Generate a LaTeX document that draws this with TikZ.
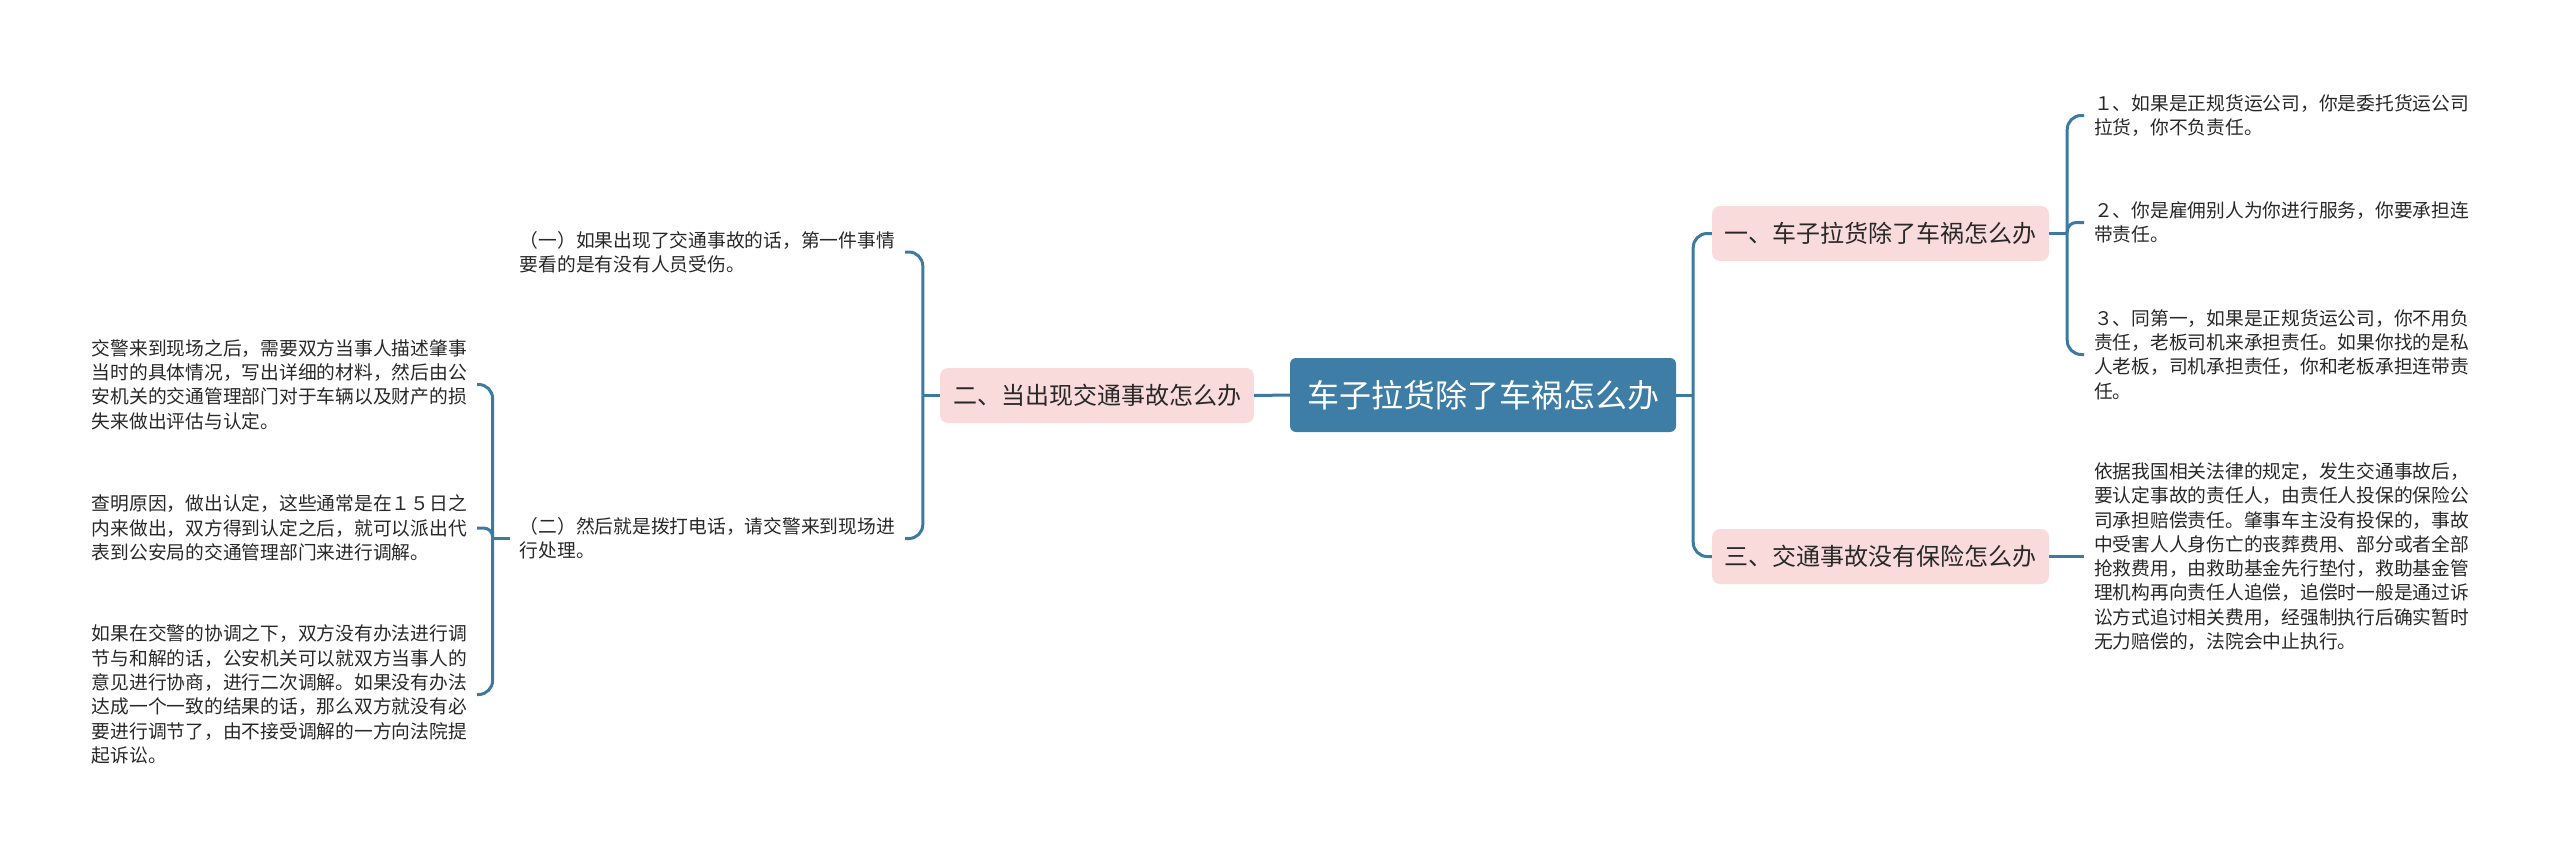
\documentclass[tikz,border=0pt]{standalone}
\usepackage{fontspec}
\newfontfamily\cjk{Noto Sans CJK SC}
\usetikzlibrary{calc}
\definecolor{rootblue}{RGB}{62,126,166}
\definecolor{linkblue}{RGB}{60,122,162}
\definecolor{pinkfill}{RGB}{250,219,219}
\definecolor{txtgray}{RGB}{40,40,40}
\begin{document}
\begin{tikzpicture}[x=1pt,y=-1pt,
  conn/.style={draw=linkblue,line width=3pt},
  rootnode/.style={fill=rootblue,rounded corners=6pt,text=white,font=\cjk\fontsize{32}{38}\selectfont,minimum width=386pt,minimum height=74pt,inner sep=0pt},
  branch/.style={fill=pinkfill,rounded corners=8pt,text=txtgray,font=\cjk\fontsize{24}{29}\selectfont,minimum height=55pt,inner sep=0pt},
  leaf/.style={text=txtgray,font=\cjk\fontsize{18.75}{24.3}\selectfont,align=left,inner xsep=10pt,inner ysep=2pt}]
\path[use as bounding box] (0,0) rectangle (2560,857);

\node[rootnode] (root) at (1483,395) {车子拉货除了车祸怎么办};
\node[branch,minimum width=337pt] (b1) at (1880.5,233.5) {一、车子拉货除了车祸怎么办};
\node[branch,minimum width=337pt] (b3) at (1880.5,556.5) {三、交通事故没有保险怎么办};
\node[branch,minimum width=314pt] (b2) at (1097,395.5) {二、当出现交通事故怎么办};

\node[leaf,anchor=west] (l1) at (2084,115.5) {１、如果是正规货运公司，你是委托货运公司\\拉货，你不负责任。};
\node[leaf,anchor=west] (l2) at (2084,222.5) {２、你是雇佣别人为你进行服务，你要承担连\\带责任。};
\node[leaf,anchor=west] (l3) at (2084,354.5) {３、同第一，如果是正规货运公司，你不用负\\责任，老板司机来承担责任。如果你找的是私\\人老板，司机承担责任，你和老板承担连带责\\任。};
\node[leaf,anchor=west] (l4) at (2084,556.5) {依据我国相关法律的规定，发生交通事故后，\\要认定事故的责任人，由责任人投保的保险公\\司承担赔偿责任。肇事车主没有投保的，事故\\中受害人人身伤亡的丧葬费用、部分或者全部\\抢救费用，由救助基金先行垫付，救助基金管\\理机构再向责任人追偿，追偿时一般是通过诉\\讼方式追讨相关费用，经强制执行后确实暂时\\无力赔偿的，法院会中止执行。};

\node[leaf,anchor=east] (l5) at (905,252) {（一）如果出现了交通事故的话，第一件事情\\要看的是有没有人员受伤。};
\node[leaf,anchor=east] (l6) at (905,538.5) {（二）然后就是拨打电话，请交警来到现场进\\行处理。};

\node[leaf,anchor=east] (la) at (477,384.5) {交警来到现场之后，需要双方当事人描述肇事\\当时的具体情况，写出详细的材料，然后由公\\安机关的交通管理部门对于车辆以及财产的损\\失来做出评估与认定。};
\node[leaf,anchor=east] (lb) at (477,528) {查明原因，做出认定，这些通常是在１５日之\\内来做出，双方得到认定之后，就可以派出代\\表到公安局的交通管理部门来进行调解。};
\node[leaf,anchor=east] (lc) at (477,694.5) {如果在交警的协调之下，双方没有办法进行调\\节与和解的话，公安机关可以就双方当事人的\\意见进行协商，进行二次调解。如果没有办法\\达成一个一致的结果的话，那么双方就没有必\\要进行调节了，由不接受调解的一方向法院提\\起诉讼。};

% right trunk
\coordinate (jr) at ($(root.east)+(17,0)$);
\draw[conn] (root.east) -- (jr);
\draw[conn,rounded corners=14pt] (b1.west) -| (jr) |- (b3.west);

% branch 1 leaves
\coordinate (j1) at ($(b1.east)+(18,0)$);
\draw[conn] (b1.east) -- (j1);
\draw[conn,rounded corners=14pt] (j1) |- (l1.west);
\draw[conn,rounded corners=9pt] (j1) |- (l2.west);
\draw[conn,rounded corners=14pt] (j1) |- (l3.west);

% branch 3 leaf
\draw[conn] (b3.east) -- (l4.west);

% left side
\draw[conn] (root.west) -- (b2.east);
\coordinate (j2) at ($(b2.west)+(-17,0)$);
\draw[conn] (b2.west) -- (j2);
\draw[conn,rounded corners=14pt] (j2) |- (l5.east);
\draw[conn,rounded corners=14pt] (j2) |- (l6.east);

\coordinate (j3) at ($(l6.west)+(-17,0)$);
\draw[conn] (l6.west) -- (j3);
\draw[conn,rounded corners=14pt] (j3) |- (la.east);
\draw[conn,rounded corners=9pt] (j3) |- (lb.east);
\draw[conn,rounded corners=14pt] (j3) |- (lc.east);
\end{tikzpicture}
\end{document}
